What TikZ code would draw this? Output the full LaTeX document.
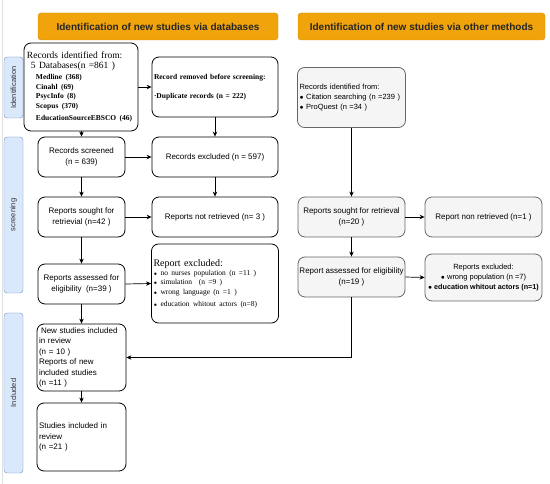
\documentclass[tikz,border=0pt]{standalone}
\usepackage{fontspec}
\setmainfont{Liberation Serif}
\setsansfont{Liberation Sans}
\usetikzlibrary{arrows.meta}
\definecolor{hdrfill}{HTML}{F0A30A}
\definecolor{hdrline}{HTML}{D89008}
\definecolor{bandfill}{HTML}{DAE8FC}
\definecolor{bandline}{HTML}{6C8EBF}
\definecolor{grayfill}{HTML}{F5F5F5}
\definecolor{grayline}{HTML}{666666}
\begin{document}
\begin{tikzpicture}[x=1pt,y=-1pt,
  every node/.style={inner sep=2pt},
  lbox/.style={draw=black, line width=0.8pt, rounded corners=7pt, fill=white,
    font=\sffamily\fontsize{8}{10.5}\selectfont, align=center},
  rbox/.style={draw=grayline, line width=0.8pt, rounded corners=7pt, fill=grayfill,
    font=\sffamily\fontsize{8}{10.5}\selectfont, align=center},
  hdr/.style={draw=hdrline, fill=hdrfill, rounded corners=3pt,
    font=\sffamily\bfseries\fontsize{10}{12}\selectfont, text=black!85},
  band/.style={draw=bandline, fill=bandfill, rounded corners=3pt, rotate=90,
    minimum height=19pt, font=\sffamily\fontsize{7.5}{8}\selectfont, text=black!80},
  arr/.style={-{Stealth[length=5pt,width=4.5pt]}, line width=0.7pt}
]
\useasboundingbox (0,0) rectangle (550,484);
\draw[black!12, line width=0.6pt] (2,0) -- (2,484);

% headers
\node[hdr, minimum width=240pt, minimum height=27pt] (h1) at (158,26.5) {Identification of new studies via databases};
\node[hdr, minimum width=247pt, minimum height=27pt] (h2) at (421.5,26.5) {Identification of new studies via other methods};

% bands
\node[band, minimum width=61pt] (b1) at (13.5,87.5) {Identification};
\node[band, minimum width=156pt] (b2) at (13.5,215) {screening};
\node[band, minimum width=160pt] (b3) at (13.5,393) {Included};

% left column
\node[lbox, minimum width=114pt, minimum height=88pt, text width=108pt, align=left,
  font=\rmfamily] (id) at (81,87)
  {\fontsize{9.5}{9.5}\selectfont Records identified from:\\
   \hspace*{4pt}5 Databases(n =861 )\\[2pt]
   {\bfseries\fontsize{7.5}{9.6}\selectfont
   \hspace*{9pt}Medline (368)\\
   \hspace*{9pt}Cinahl (69)\\
   \hspace*{9pt}PsycInfo (8)\\
   \hspace*{9pt}Scopus (370)\\
   \hspace*{9pt}EducationSourceEBSCO (46)}};
\node[lbox, minimum width=126pt, minimum height=60pt, text width=122pt, align=left,
  font=\rmfamily\bfseries\fontsize{7.5}{9}\selectfont] (rem) at (215,87)
  {Record removed before screening:\\[10pt]
   ·Duplicate records (n = 222)};
\node[lbox, minimum width=87pt, minimum height=40pt] (scr) at (81.5,157) {Records screened\\(n = 639)};
\node[lbox, minimum width=126pt, minimum height=40pt] (exc) at (215,157) {Records excluded (n = 597)};
\node[lbox, minimum width=87pt, minimum height=40pt] (sought) at (81.5,217) {Reports sought for\\retrievial (n=42 )};
\node[lbox, minimum width=126pt, minimum height=40pt] (notret) at (215,217) {Reports not retrieved (n= 3 )};
\node[lbox, minimum width=87pt, minimum height=40pt] (assess) at (81.5,284) {Reports assessed for\\eligibility\ \ (n=39 )};
\node[lbox, minimum width=126pt, minimum height=79pt, text width=123pt, align=left,
  font=\rmfamily] (repexc) at (215,283.5)
  {\fontsize{10}{12}\selectfont Report excluded:\\
   {\fontsize{7.5}{9.4}\selectfont
   {\tiny$\bullet$} no nurses population (n =11 )\\
   {\tiny$\bullet$} simulation\ \ (n =9 )\\
   {\tiny$\bullet$} wrong language (n =1 )\\
   {\tiny$\bullet$} education whitout actors (n=8)}};
\node[lbox, minimum width=87pt, minimum height=67pt, text width=85pt, align=left] (newinc) at (81.5,357.5)
  {\hspace*{2pt}New studies included\\in review\\(n = 10 )\\Reports of new\\included studies\\(n =11 )};
\node[lbox, minimum width=87pt, minimum height=68pt, text width=85pt, align=left] (total) at (81.5,437)
  {Studies included in\\review\\(n =21 )};

% right column
\node[rbox, minimum width=107pt, minimum height=60pt, text width=104pt, align=left,
  font=\sffamily\fontsize{7.5}{10.2}\selectfont] (idR) at (351.5,97.5)
  {Records identified from:\\$\bullet$ Citation searching (n =239 )\\$\bullet$ ProQuest (n =34 )};
\node[rbox, minimum width=107pt, minimum height=40pt] (soughtR) at (351.5,217) {Reports sought for retrieval\\(n=20 )};
\node[rbox, minimum width=117pt, minimum height=40pt] (nonR) at (483.5,217) {Report non retrieved (n=1 )};
\node[rbox, minimum width=107pt, minimum height=40pt, inner sep=1pt] (assessR) at (351.5,277) {Report assessed for eligibility\\(n=19 )};
\node[rbox, minimum width=117pt, minimum height=47pt, inner sep=1pt,
  font=\sffamily\fontsize{7.5}{10}\selectfont] (excR) at (483.5,277.5)
  {Reports excluded:\\$\bullet$ wrong population (n =7)\\{\bfseries\fontsize{7.2}{10}\selectfont $\bullet$ education whitout actors (n=1)}};

% connectors
\draw[arr] (scr.north |- id.south) -- (scr.north);
\draw[arr] (id.east) -- (rem.west);
\draw[arr] (rem.south) -- (exc.north);
\draw[arr] (scr.east) -- (exc.west);
\draw[arr] (scr.south) -- (sought.north);
\draw[arr] (exc.south) -- (notret.north);
\draw[arr] (sought.east) -- (notret.west);
\draw[arr] (sought.south) -- (assess.north);
\draw[arr] (assess.east) -- (repexc.west);
\draw[arr] (assess.south) -- (newinc.north);
\draw[arr] (newinc.south) -- (total.north);
\draw[arr] (idR.south) -- (soughtR.north);
\draw[arr] (soughtR.east) -- (nonR.west);
\draw[arr] (soughtR.south) -- (assessR.north);
\draw[arr] (assessR.east) -- (excR.west);
\draw[arr] (assessR.south) |- (newinc.east);
\end{tikzpicture}
\end{document}
